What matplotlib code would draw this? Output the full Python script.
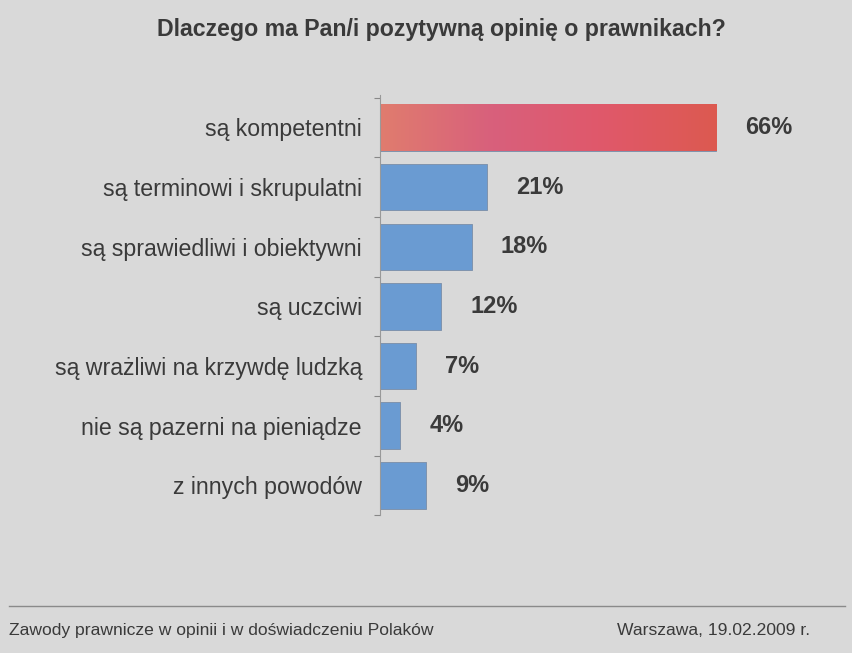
#!/usr/bin/env python3
"""
Dlaczego ma Pan/i pozytywna opinie o prawnikach - horizontal bar chart
"""

import numpy as np
import matplotlib
matplotlib.use("Agg")
import matplotlib.pyplot as plt
from matplotlib.ticker import FixedLocator
from matplotlib.colors import LinearSegmentedColormap

categories = [
    "są kompetentni",
    "są terminowi i skrupulatni",
    "są sprawiedliwi i obiektywni",
    "są uczciwi",
    "są wrażliwi na krzywdę ludzką",
    "nie są pazerni na pieniądze",
    "z innych powodów",
]
values = [66, 21, 18, 12, 7, 4, 9]
value_labels = ["66%", "21%", "18%", "12%", "7%", "4%", "9%"]

title = "Dlaczego ma Pan/i pozytywną opinię o prawnikach?"
footer_left = "Zawody prawnicze w opinii i w doświadczeniu Polaków"
footer_right = "Warszawa, 19.02.2009 r."

bg = "#d9d9d9"
blue = "#6a9bd2"
red = "#dd6470"
text_col = "#3a3a3a"

plt.rcParams['font.family'] = ['Liberation Sans', 'DejaVu Sans']

fig = plt.figure(figsize=(8.52, 6.53), dpi=100)
fig.patch.set_facecolor(bg)
ax = fig.add_axes([0.446, 0.211, 0.538, 0.644])
ax.set_facecolor(bg)

y = np.arange(len(categories))
colors = [red] + [blue] * (len(categories) - 1)
bars = ax.barh(y, values, height=0.78, color=colors,
               edgecolor="#7f93ad", linewidth=0.7)

# gradient look on the first (red) bar
b0 = bars[0]
grad = np.linspace(0, 1, 256).reshape(1, -1)
cmap = LinearSegmentedColormap.from_list("rg", ["#e07c6e", "#d8607c", "#e0586a", "#dc5a50"])
im = ax.imshow(grad, aspect="auto", cmap=cmap,
               extent=[0, values[0], b0.get_y(), b0.get_y() + b0.get_height()],
               zorder=2)
im.set_clip_path(b0)

for yi, v, lab in zip(y, values, value_labels):
    ax.annotate(lab, (v, yi), xytext=(21, 0), textcoords="offset points",
                va="center", ha="left", fontsize=17, fontweight="bold",
                color=text_col)

ax.set_xlim(0, 90)
ax.set_ylim(len(categories) - 0.5, -0.55)
ax.set_yticks(y)
ax.set_yticklabels(categories, fontsize=16.7, color=text_col)
ax.tick_params(axis="y", which="major", length=0, pad=13)
ax.yaxis.set_minor_locator(FixedLocator(np.arange(-0.5, len(categories), 1.0)))
ax.tick_params(axis="y", which="minor", length=4, color="#888888", width=0.8)
ax.set_xticks([])
for s in ["top", "right", "bottom"]:
    ax.spines[s].set_visible(False)
ax.spines["left"].set_color("#999999")
ax.spines["left"].set_linewidth(0.8)

fig.text(0.518, 0.955, title, ha="center", va="center", fontsize=16.7,
         fontweight="bold", color=text_col)

# footer line and texts
fig.add_artist(plt.Line2D([0.01, 0.992], [0.072, 0.072], color="#8a8a8a", linewidth=1.0))
fig.text(0.01, 0.035, footer_left, ha="left", va="center", fontsize=12.6,
         color=text_col)
fig.text(0.951, 0.035, footer_right, ha="right", va="center", fontsize=12.6,
         color=text_col)

fig.savefig("out.png", dpi=100, facecolor=bg)
